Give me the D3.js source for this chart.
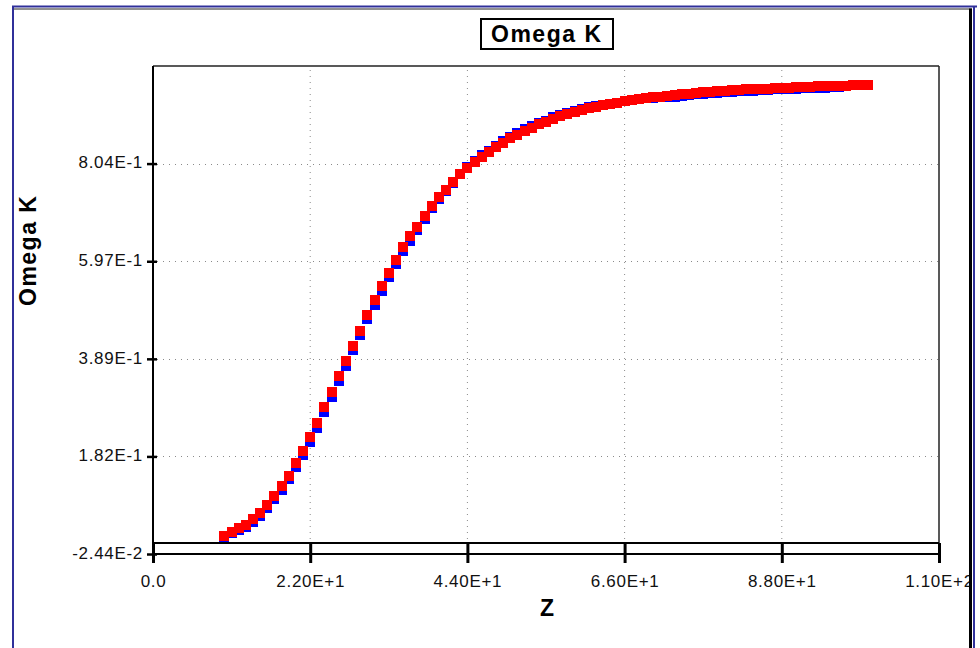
<!DOCTYPE html>
<html><head><meta charset="utf-8">
<script src="https://cdn.jsdelivr.net/npm/d3@7"></script>
<style>body{margin:0;background:#fff;} svg{display:block;}</style>
</head><body>
<svg id="c" width="980" height="648"></svg>
<script>
const chartTitle = "Omega K";
const xAxisLabel = "Z";
const yAxisLabel = "Omega K";

const xTicks = [0, 22, 44, 66, 88, 110];
const xTickLabels = ["0.0", "2.20E+1", "4.40E+1", "6.60E+1", "8.80E+1", "1.10E+2"];
const yTicks = [-0.0244, 0.1828, 0.3900, 0.5972, 0.8046];
const yTickLabels = ["-2.44E-2", "1.82E-1", "3.89E-1", "5.97E-1", "8.04E-1"];
const xDomain = [0, 110];
const yDomain = [-0.0244, 1.0118];

const zRed = [10,11,12,13,14,15,16,17,18,19,20,21,22,23,24,25,26,27,28,29,
  30,31,32,33,34,35,36,37,38,39,40,41,42,43,44,45,46,47,48,49,
  50,51,52,53,54,55,56,57,58,59,60,61,62,63,64,65,66,67,68,69,
  70,71,72,73,74,75,76,77,78,79,80,81,82,83,84,85,86,87,88,89,
  90,91,92,93,94,95,96,97,98,99,100];
const omegaRed = [0.014,0.023,0.030,0.038,0.049,0.063,0.080,0.099,0.120,0.142,
  0.168,0.195,0.224,0.254,0.287,0.320,0.353,0.385,0.418,0.450,
  0.484,0.514,0.544,0.572,0.600,0.627,0.650,0.671,0.694,0.715,
  0.733,0.749,0.765,0.782,0.796,0.808,0.819,0.829,0.839,0.849,
  0.858,0.866,0.874,0.881,0.888,0.893,0.900,0.905,0.910,0.914,
  0.918,0.922,0.925,0.929,0.932,0.934,0.938,0.940,0.942,0.944,
  0.945,0.947,0.948,0.950,0.952,0.953,0.955,0.956,0.957,0.958,
  0.959,0.960,0.961,0.962,0.962,0.963,0.964,0.965,0.966,0.966,
  0.967,0.968,0.968,0.969,0.969,0.970,0.970,0.970,0.971,0.971,
  0.971];

const zBlue = [10,11,12,13,14,15,16,17,18,19,20,21,22,23,24,25,26,27,28,29,
  30,31,32,33,34,35,36,37,38,39,40,41,42,43,44,45,46,47,48,49,
  50,51,52,53,54,55,56,57,58,59,60,61,62,63,64,65,66,67,68,69,
  70,71,72,73,74,75,76,77,78,79,80,81,82,83,84,85,86,87,88,89,
  90,91,92,93,94,95,96];
const omegaBlue = [0.012,0.021,0.027,0.032,0.043,0.056,0.073,0.092,0.112,0.134,
  0.160,0.186,0.214,0.244,0.277,0.310,0.343,0.375,0.408,0.440,
  0.474,0.504,0.534,0.563,0.591,0.618,0.641,0.663,0.687,0.710,
  0.729,0.746,0.763,0.782,0.797,0.811,0.822,0.832,0.842,0.852,
  0.861,0.869,0.877,0.884,0.891,0.896,0.903,0.908,0.913,0.917,
  0.921,0.924,0.927,0.929,0.932,0.934,0.938,0.940,0.942,0.943,
  0.944,0.945,0.946,0.947,0.949,0.950,0.952,0.953,0.954,0.955,
  0.956,0.957,0.958,0.959,0.959,0.960,0.961,0.962,0.963,0.963,
  0.964,0.965,0.965,0.966,0.966,0.967,0.967];

const svg = d3.select("#c");
const L = 153, R = 939, T = 66, B = 543, AX = 554;
const x = d3.scaleLinear().domain(xDomain).range([L, R]);
const y = d3.scaleLinear().domain(yDomain).range([AX, T]);
const tickFont = "'Liberation Sans', Arial, sans-serif";

svg.append("defs").append("clipPath").attr("id", "frameClip")
  .append("rect").attr("x", 14).attr("y", 9).attr("width", 955).attr("height", 640);

const g = svg.append("g").attr("clip-path", "url(#frameClip)");

// grid
g.append("g").selectAll("line").data(xTicks.slice(1, -1)).join("line")
  .attr("x1", d => x(d)).attr("x2", d => x(d)).attr("y1", T + 4).attr("y2", B)
  .attr("stroke", "#8a8a8a").attr("stroke-width", 1).attr("stroke-dasharray", "1,5");
g.append("g").selectAll("line").data(yTicks.slice(1)).join("line")
  .attr("y1", d => Math.round(y(d)) + 0.5).attr("y2", d => Math.round(y(d)) + 0.5)
  .attr("x1", L + 4).attr("x2", R)
  .attr("stroke", "#8a8a8a").attr("stroke-width", 1).attr("stroke-dasharray", "1,5");

// plot box
g.append("line").attr("x1", L).attr("x2", R).attr("y1", T).attr("y2", T).attr("stroke", "#222").attr("stroke-width", 1.5);
g.append("line").attr("x1", R).attr("x2", R).attr("y1", T).attr("y2", B).attr("stroke", "#222").attr("stroke-width", 1.5);
g.append("line").attr("x1", L).attr("x2", R).attr("y1", B).attr("y2", B).attr("stroke", "#000").attr("stroke-width", 2);

// x axis
const xAxis = d3.axisBottom(x).tickValues(xTicks).tickFormat((d, i) => xTickLabels[i]).tickSize(9).tickPadding(12);
const xg = g.append("g").attr("transform", `translate(0,${AX})`).call(xAxis);
xg.select(".domain").attr("stroke", "#000").attr("stroke-width", 2).attr("d", `M${L},0H${R}`);
xg.selectAll(".tick line").attr("y1", B - AX).attr("stroke", "#000").attr("stroke-width", 3);
xg.selectAll(".tick text").attr("font-family", tickFont).attr("font-size", 17)
  .attr("letter-spacing", "0.7px").attr("fill", "#111");

// y axis
const yAxis = d3.axisLeft(y).tickValues(yTicks).tickFormat((d, i) => yTickLabels[i]).tickSize(6).tickPadding(4);
const yg = g.append("g").attr("transform", `translate(${L},0)`).call(yAxis);
yg.select(".domain").attr("stroke", "#000").attr("stroke-width", 2).attr("d", `M0,${T}V${AX}`);
yg.selectAll(".tick line").attr("x1", 4).attr("stroke", "#000").attr("stroke-width", 2.5);
yg.selectAll(".tick text").attr("font-family", tickFont).attr("font-size", 17)
  .attr("letter-spacing", "0.7px").attr("fill", "#111").attr("dy", "0.25em");

// series
const blue = zBlue.map((z, i) => ({z, v: omegaBlue[i]}));
const red = zRed.map((z, i) => ({z, v: omegaRed[i]}));
g.append("g").selectAll("rect").data(blue).join("rect")
  .attr("x", d => x(d.z) - 5).attr("y", d => y(d.v) - 5).attr("width", 10).attr("height", 10)
  .attr("fill", "#0000ff").attr("shape-rendering", "crispEdges");
g.append("g").selectAll("rect").data(red).join("rect")
  .attr("x", d => x(d.z) - 5).attr("y", d => y(d.v) - 5).attr("width", 10).attr("height", 10)
  .attr("fill", "#ff0000").attr("shape-rendering", "crispEdges");

// title
g.append("rect").attr("x", 481).attr("y", 19).attr("width", 132).attr("height", 30)
  .attr("fill", "#fff").attr("stroke", "#000").attr("stroke-width", 2);
g.append("text").attr("x", 546).attr("y", 42).attr("text-anchor", "middle")
  .attr("font-family", tickFont).attr("font-weight", "bold").attr("font-size", 23)
  .attr("textLength", 110).attr("lengthAdjust", "spacing").text(chartTitle);

// axis labels
g.append("text").attr("x", 547).attr("y", 616).attr("text-anchor", "middle")
  .attr("font-family", tickFont).attr("font-weight", "bold").attr("font-size", 23).text(xAxisLabel);
g.append("text").attr("transform", "translate(36,251) rotate(-90)").attr("text-anchor", "middle")
  .attr("font-family", tickFont).attr("font-weight", "bold").attr("font-size", 23)
  .attr("textLength", 110).attr("lengthAdjust", "spacing").text(yAxisLabel);

// frame
const navy = "#30309a";
svg.append("line").attr("x1", 12).attr("x2", 977).attr("y1", 6.5).attr("y2", 6.5).attr("stroke", navy).attr("stroke-width", 2);
svg.append("line").attr("x1", 13).attr("x2", 13).attr("y1", 6).attr("y2", 648).attr("stroke", navy).attr("stroke-width", 2);
svg.append("line").attr("x1", 974).attr("x2", 974).attr("y1", 6).attr("y2", 648).attr("stroke", navy).attr("stroke-width", 2);
svg.append("line").attr("x1", 14).attr("x2", 972).attr("y1", 9).attr("y2", 9).attr("stroke", "#222").attr("stroke-width", 1);
svg.append("line").attr("x1", 970.5).attr("x2", 970.5).attr("y1", 8.5).attr("y2", 648).attr("stroke", "#000").attr("stroke-width", 3);
</script>
</body></html>
